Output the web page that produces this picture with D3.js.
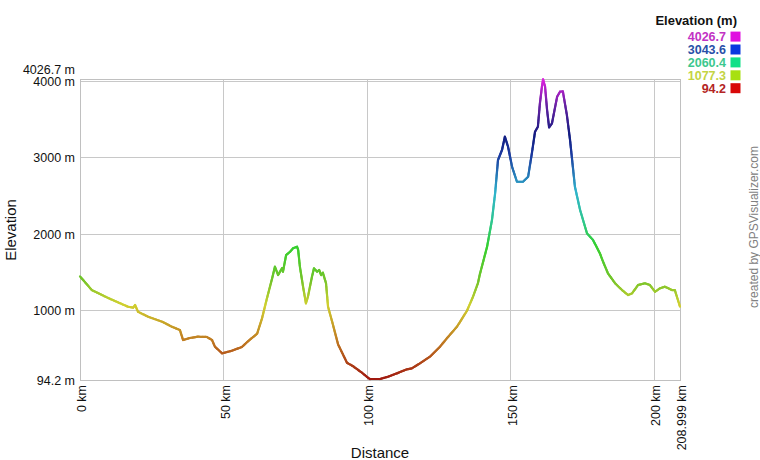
<!DOCTYPE html>
<html><head><meta charset="utf-8">
<script src="https://cdn.jsdelivr.net/npm/d3@7"></script>
<style>body{margin:0;background:#fff}svg{display:block;font-family:Arial,"Liberation Sans",sans-serif}</style>
</head><body><svg id="c" width="760" height="460"></svg>
<script>
// ---- data ----
const distanceKm = [0,4.1,9.8,16.7,18.5,19.2,20.2,23.7,28.6,32.0,34.8,35.9,38.3,41.1,44.2,46.0,47.0,49.5,52.9,56.4,58.5,61.7,63.4,65.1,66.9,67.9,69.0,70.4,70.7,71.8,73.2,74.2,75.6,76.0,76.6,77.7,78.7,79.4,80.8,81.5,82.6,83.3,84.0,84.6,85.7,86.4,88.1,89.9,93.0,95.1,98.2,100.3,101.0,104.5,107.3,110.4,113.9,115.6,118.4,121.9,125.4,127.8,131.3,134.8,136.9,138.6,139.3,141.8,143.5,144.6,145.6,147.0,148.0,149.1,150.5,152.2,154.3,156.1,157.4,158.5,159.5,160.2,160.9,161.3,162.0,162.7,163.4,164.4,166.2,167.2,168.2,169.6,170.7,172.4,174.2,176.6,178.7,181.1,182.2,183.9,186.4,188.8,190.9,192.3,194.4,196.8,198.5,200.3,202.0,203.7,206.2,207.2,208.999];
const elevationM = [1450,1271,1167,1053,1040,1075,987,922,857,791,748,617,644,661,657,617,530,443,477,526,600,700,900,1160,1420,1576,1468,1559,1511,1729,1773,1817,1838,1795,1576,1315,1097,1184,1445,1555,1511,1533,1468,1498,1359,1053,820,560,320,275,190,125,107,107,137,181,234,247,312,399,530,640,791,1000,1184,1359,1480,1838,2187,2537,2972,3103,3277,3146,2884,2688,2688,2754,3060,3342,3408,3714,3931,4026.7,3931,3626,3400,3452,3800,3866,3870,3560,3234,2623,2318,2013,1926,1751,1642,1490,1359,1271,1206,1228,1337,1359,1337,1249,1293,1315,1271,1271,1053];
const xTickValues = [0,50,100,150,200,208.999];
const xTickLabels = ["0 km","50 km","100 km","150 km","200 km","208.999 km"];
const yTickValues = [94.2,1000,2000,3000,4000,4026.7];
const yTickLabels = ["94.2 m","1000 m","2000 m","3000 m","4000 m","4026.7 m"];
const legendValues = ["4026.7","3043.6","2060.4","1077.3","94.2"];
// ---- styles ----
const legendTextColors = ["#c232c4","#2850a8","#3cc88e","#c4d444","#b42424"];
const legendBoxColors = ["#e010e0","#0838e0","#10e088","#a8e010","#d80808"];
const colorStops = [94.2,600,1077.3,1400,1850,2150,2550,3043.6,3300,3700,4026.7];
const colorRange = ["#a01810","#c07a22","#d0d030","#74c42a","#34d030","#30c88c","#30b4cc","#1c3aa0","#121c80","#6a22a4","#e020e0"];

const svg = d3.select("#c");
const x = d3.scaleLinear().domain([0,208.999]).range([80,680]);
const y = d3.scaleLinear().domain([94.2,4026.7]).range([380,79.4]);
const col = d3.scaleLinear().domain(colorStops).range(colorRange).interpolate(d3.interpolateRgb).clamp(true);

// grid
const gridCol = "#c8c8c8";
svg.append("g").selectAll("line").data([1000,2000,3000,4000]).join("line")
  .attr("x1",80).attr("x2",680).attr("y1",d=>y(d)).attr("y2",d=>y(d))
  .attr("stroke",gridCol).attr("stroke-width",1).attr("shape-rendering","crispEdges");
svg.append("g").selectAll("line").data([50,100,150,200]).join("line")
  .attr("y1",79.4).attr("y2",380).attr("x1",d=>x(d)).attr("x2",d=>x(d))
  .attr("stroke",gridCol).attr("stroke-width",1).attr("shape-rendering","crispEdges");
svg.append("rect").attr("x",80).attr("y",79.4).attr("width",600).attr("height",300.6)
  .attr("fill","none").attr("stroke","#c0c0c0").attr("shape-rendering","crispEdges");

// axes
const yAxis = d3.axisLeft(y).tickValues(yTickValues).tickFormat((d,i)=>yTickLabels[i]).tickSize(0).tickPadding(5);
const gy = svg.append("g").attr("transform","translate(80,0)").call(yAxis);
gy.select(".domain").remove();
gy.selectAll("text").attr("font-size","12.5px").attr("fill","#111").attr("font-family","Arial,'Liberation Sans',sans-serif");
gy.selectAll(".tick").filter(d=>d===4026.7).select("text").attr("dy","-0.5em");

const xAxis = d3.axisBottom(x).tickValues(xTickValues).tickFormat((d,i)=>xTickLabels[i]).tickSize(0);
const gx = svg.append("g").attr("transform","translate(0,380)").call(xAxis);
gx.select(".domain").remove();
gx.selectAll("text").attr("transform","rotate(-90)").attr("text-anchor","end")
  .attr("x",-5).attr("y",0).attr("dy","0.45em")
  .attr("font-size","12.5px").attr("fill","#111").attr("font-family","Arial,'Liberation Sans',sans-serif");

// titles
svg.append("text").attr("transform","translate(16,230) rotate(-90)").attr("text-anchor","middle")
  .attr("font-size","15px").attr("fill","#111").text("Elevation");
svg.append("text").attr("x",380).attr("y",458).attr("text-anchor","middle")
  .attr("font-size","15px").attr("fill","#111").text("Distance");
svg.append("text").attr("transform","translate(758,227) rotate(-90)").attr("text-anchor","middle")
  .attr("font-size","12px").attr("fill","#808080").text("created by GPSVisualizer.com");

// line with elevation gradient
const pts = distanceKm.map((d,i)=>({d, e:elevationM[i]}));
const segs = [];
for (let i=0;i<pts.length-1;i++){
  const a=pts[i], b=pts[i+1];
  const len = Math.hypot(x(b.d)-x(a.d), y(b.e)-y(a.e));
  const n = Math.max(1, Math.ceil(len/1.5));
  for (let k=0;k<n;k++){
    const t0=k/n, t1=(k+1)/n;
    const d0=a.d+(b.d-a.d)*t0, e0=a.e+(b.e-a.e)*t0;
    const d1=a.d+(b.d-a.d)*t1, e1=a.e+(b.e-a.e)*t1;
    segs.push({d0,e0,d1,e1,em:(e0+e1)/2});
  }
}
svg.append("g").selectAll("line").data(segs).join("line")
  .attr("x1",s=>x(s.d0)).attr("y1",s=>y(s.e0)).attr("x2",s=>x(s.d1)).attr("y2",s=>y(s.e1))
  .attr("stroke",s=>col(s.em)).attr("stroke-width",2.2).attr("stroke-linecap","round");

// legend
svg.append("text").attr("x",737).attr("y",25).attr("text-anchor","end")
  .attr("font-size","13px").attr("font-weight","bold").attr("fill","#111").text("Elevation (m)");
const lg = svg.append("g").selectAll("g").data(legendValues).join("g")
  .attr("transform",(d,i)=>`translate(0,${36.6+i*12.9})`);
lg.append("text").attr("x",726).attr("y",0).attr("dy","0.36em").attr("text-anchor","end")
  .attr("font-size","12.5px").attr("font-weight","bold").attr("fill",(d,i)=>legendTextColors[i]).text(d=>d);
lg.append("rect").attr("x",730.5).attr("y",-5).attr("width",10).attr("height",10)
  .attr("fill",(d,i)=>legendBoxColors[i]);
</script></body></html>
